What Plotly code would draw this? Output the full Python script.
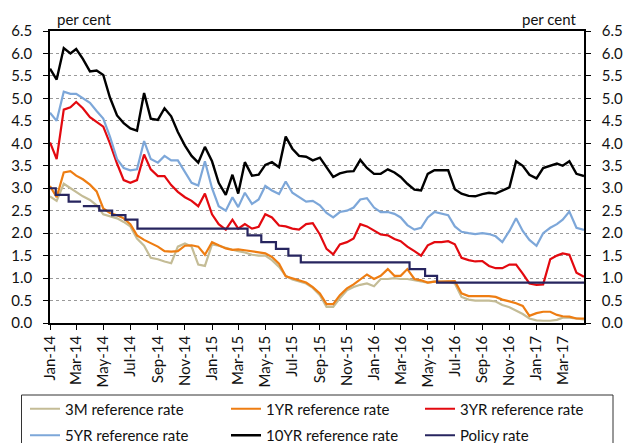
import plotly.graph_objects as go

# Half-monthly observation dates (1st and 16th of each month), last point = end of data
DATES = [f"{2014 + k // 24}-{(k % 24) // 2 + 1:02d}-{'01' if k % 2 == 0 else '16'}" for k in range(79)] + ["2017-04-18"]

RATE_3M = [2.82, 2.72, 3.1, 3.0, 2.92, 2.82, 2.74, 2.62, 2.42, 2.37,
           2.33, 2.25, 2.15, 1.88, 1.72, 1.45, 1.42, 1.37, 1.33, 1.7,
           1.77, 1.7, 1.3, 1.27, 1.75, 1.72, 1.67, 1.63, 1.6, 1.57,
           1.52, 1.5, 1.5, 1.4, 1.25, 1.05, 0.97, 0.92, 0.88, 0.78,
           0.62, 0.36, 0.36, 0.55, 0.73, 0.8, 0.85, 0.88, 0.82, 0.98,
           0.98, 1.0, 0.98, 0.98, 0.95, 0.92, 0.9, 0.92, 0.92, 0.92,
           0.88, 0.58, 0.52, 0.5, 0.5, 0.5, 0.48, 0.4, 0.35, 0.28,
           0.2, 0.1, 0.06, 0.05, 0.05, 0.07, 0.12, 0.12, 0.1, 0.08]

RATE_1Y = [3.05, 2.8, 3.35, 3.38, 3.28, 3.2, 3.08, 2.93, 2.55, 2.45,
           2.4, 2.33, 2.2, 1.95, 1.85, 1.77, 1.7, 1.6, 1.59, 1.6,
           1.72, 1.73, 1.7, 1.52, 1.8, 1.73, 1.66, 1.63, 1.64, 1.62,
           1.6, 1.58, 1.55, 1.47, 1.32, 1.04, 1.0, 0.95, 0.9, 0.8,
           0.66, 0.42, 0.42, 0.62, 0.77, 0.86, 0.98, 1.08, 0.98, 1.05,
           1.2, 1.05, 1.05, 1.2, 0.98, 0.95, 0.9, 0.92, 0.92, 0.93,
           0.93, 0.66, 0.6, 0.6, 0.6, 0.6, 0.58, 0.52, 0.48, 0.44,
           0.38, 0.16, 0.22, 0.25, 0.25, 0.18, 0.15, 0.14, 0.1, 0.1]

RATE_3Y = [4.02, 3.65, 4.75, 4.8, 4.92, 4.78, 4.58, 4.47, 4.37, 4.0,
           3.55, 3.18, 3.12, 3.18, 3.75, 3.42, 3.27, 3.27, 3.07, 2.92,
           2.8, 2.72, 2.6, 2.88, 2.42, 2.2, 2.08, 2.3, 2.1, 2.2,
           2.1, 2.14, 2.42, 2.35, 2.17, 2.15, 2.1, 2.08, 2.2, 2.22,
           1.97, 1.65, 1.53, 1.75, 1.8, 1.88, 2.2, 2.15, 2.05, 1.97,
           1.95, 1.87, 1.82, 1.7, 1.6, 1.5, 1.73, 1.8, 1.8, 1.82,
           1.75, 1.45, 1.4, 1.37, 1.38, 1.27, 1.22, 1.22, 1.3, 1.3,
           1.1, 0.88, 0.85, 0.86, 1.42, 1.5, 1.55, 1.52, 1.12, 1.03]

RATE_5Y = [4.68, 4.5, 5.15, 5.1, 5.1, 5.0, 4.9, 4.72, 4.55, 4.15,
           3.65, 3.45, 3.4, 3.42, 4.05, 3.65, 3.57, 3.72, 3.62, 3.62,
           3.35, 3.12, 3.06, 3.6, 3.0, 2.6, 2.5, 2.8, 2.58, 2.9,
           2.65, 2.75, 3.05, 2.95, 2.87, 3.15, 2.9, 2.8, 2.7, 2.72,
           2.62, 2.45, 2.35, 2.47, 2.5, 2.57, 2.75, 2.78, 2.57, 2.47,
           2.47, 2.43, 2.35, 2.18, 2.08, 2.12, 2.35, 2.47, 2.43, 2.4,
           2.15, 2.03, 2.0, 1.98, 2.0, 1.98, 1.93, 1.8, 2.05, 2.33,
           2.05, 1.85, 1.72, 2.0, 2.12, 2.2, 2.3, 2.48, 2.12, 2.07]

RATE_10Y = [5.66, 5.42, 6.12, 6.0, 6.1, 5.88, 5.6, 5.62, 5.52, 5.02,
            4.62, 4.45, 4.33, 4.28, 5.12, 4.55, 4.52, 4.78, 4.6, 4.25,
            3.95, 3.72, 3.57, 3.92, 3.6, 3.12, 2.85, 3.3, 2.88, 3.58,
            3.28, 3.3, 3.52, 3.58, 3.47, 4.15, 3.88, 3.72, 3.7, 3.62,
            3.68, 3.45, 3.25, 3.33, 3.37, 3.38, 3.63, 3.45, 3.32, 3.32,
            3.42, 3.35, 3.25, 3.1, 2.97, 2.95, 3.32, 3.4, 3.4, 3.4,
            2.98, 2.88, 2.83, 2.82, 2.87, 2.9, 2.88, 2.95, 3.02, 3.6,
            3.5, 3.3, 3.22, 3.45, 3.5, 3.55, 3.5, 3.6, 3.32, 3.27]

POLICY_DATES = ["2014-01-01", "2014-01-14", "2014-02-12", "2014-03-12", "2014-03-13",
                "2014-03-16", "2014-04-22", "2014-05-21", "2014-06-20", "2014-07-17",
                "2015-03-22", "2015-04-22", "2015-05-25", "2015-06-22", "2015-07-20",
                "2016-03-21", "2016-04-25", "2016-05-22", "2017-04-18"]
POLICY_RATE = [3.0, 2.85, 2.7, 2.7, None,
               2.6, 2.5, 2.4, 2.3, 2.1,
               1.95, 1.8, 1.65, 1.5, 1.35,
               1.2, 1.05, 0.9, 0.9]

# name, values, colour, width, legend column
SERIES = [
    ("3M reference rate", RATE_3M, "#C4BC96", 2.2, "legend"),
    ("1YR reference rate", RATE_1Y, "#EE7D12", 2.2, "legend2"),
    ("3YR reference rate", RATE_3Y, "#E3090F", 2.2, "legend3"),
    ("5YR reference rate", RATE_5Y, "#7DA7D9", 2.2, "legend"),
    ("10YR reference rate", RATE_10Y, "#000000", 2.4, "legend2"),
]

fig = go.Figure()
for name, vals, color, w, lg in SERIES:
    fig.add_trace(go.Scatter(x=DATES, y=vals, name=name, mode="lines", legend=lg,
                             legendgroup=name, line=dict(color=color, width=w)))
fig.add_trace(go.Scatter(x=POLICY_DATES, y=POLICY_RATE, name="Policy rate", mode="lines",
                         legend="legend3", legendgroup="Policy rate",
                         line=dict(color="#27255F", width=2.2, shape="hv"), connectgaps=False))
# invisible trace to carry the right-hand axis
fig.add_trace(go.Scatter(x=[DATES[0]], y=[0], yaxis="y2", mode="markers",
                         marker=dict(opacity=0), showlegend=False, hoverinfo="skip"))

FONT = "Lato, 'Open Sans', sans-serif"
yax = dict(range=[0, 6.5], tick0=0, dtick=0.5, tickformat=".1f", ticks="outside", ticklen=5,
           tickcolor="#000", showline=True, linecolor="#000", linewidth=1.5, zeroline=False,
           ticklabelstandoff=8, tickfont=dict(size=15, color="#111"))

PW = 534.0
PH = 292.0
def px_x(p):
    return (p - 50) / PW
def px_y(p):
    return (323 - p) / PH

leg_common = dict(orientation="v", yanchor="top", xanchor="left", y=px_y(392.5),
                  borderwidth=0, bgcolor="rgba(0,0,0,0)", font=dict(size=15, color="#111"),
                  itemwidth=30, tracegroupgap=4, traceorder="grouped")

fig.update_layout(
    width=624, height=443,
    margin=dict(l=50, r=40, t=31, b=120, autoexpand=False),
    paper_bgcolor="white", plot_bgcolor="white",
    font=dict(family=FONT, size=14, color="#111"),
    legend=dict(**leg_common, x=px_x(25)),
    legend2=dict(**leg_common, x=px_x(226)),
    legend3=dict(**leg_common, x=px_x(420)),
    xaxis=dict(type="date", range=["2014-01-01", "2017-04-18"], tick0="2014-01-01", dtick="M2",
               tickformat="%b-%y", tickangle=-90, ticks="outside", ticklen=5, tickcolor="#000",
               showline=True, linecolor="#000", linewidth=1.5, mirror=True, showgrid=False,
               zeroline=False, tickfont=dict(size=15, color="#111")),
    yaxis=dict(**yax, showgrid=True, gridcolor="#9a9a9a", griddash="dot", gridwidth=1),
    yaxis2=dict(**yax, overlaying="y", side="right", showgrid=False),
    shapes=[dict(type="rect", xref="paper", yref="paper", x0=px_x(21.5), x1=px_x(613),
                 y0=px_y(395), y1=px_y(460), line=dict(color="#333", width=1),
                 fillcolor="rgba(0,0,0,0)")],
    annotations=[
        dict(text="per cent", xref="paper", yref="paper", x=0.01, y=1.0, xanchor="left",
             yanchor="bottom", yshift=1, showarrow=False, font=dict(size=15, color="#111")),
        dict(text="per cent", xref="paper", yref="paper", x=0.99, y=1.0, xanchor="right",
             yanchor="bottom", yshift=1, showarrow=False, font=dict(size=15, color="#111")),
    ],
)

fig.write_html("out.html", config={"displayModeBar": False},
               post_script="document.body.style.margin='0px';")
